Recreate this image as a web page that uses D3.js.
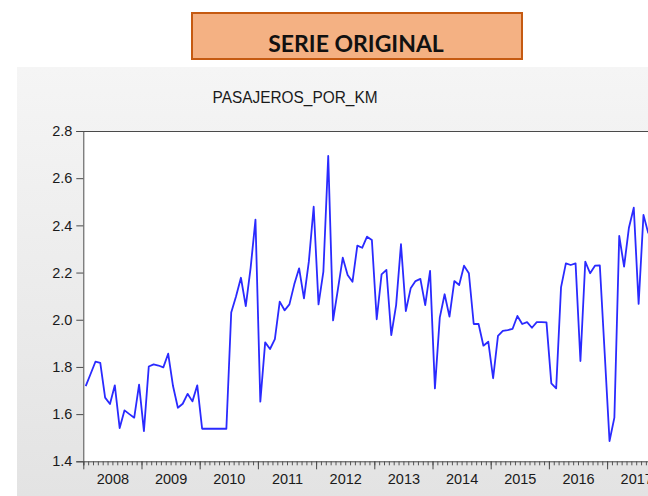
<!DOCTYPE html>
<html>
<head>
<meta charset="utf-8">
<script src="https://cdn.jsdelivr.net/npm/d3@7"></script>
<style>
  body { margin: 0; background: #fff; overflow: hidden; }
  svg { display: block; }
</style>
</head>
<body>
<svg id="chart" width="648" height="496"></svg>
<script>
// monthly series, starting 2008-01
const startYear = 2008
const pasajeros = [
  1.719, 1.770, 1.822, 1.817, 1.670, 1.643, 1.722, 1.541, 1.616, 1.600, 1.585, 1.725,
  1.528, 1.802, 1.811, 1.806, 1.798, 1.856, 1.719, 1.627, 1.644, 1.686, 1.654, 1.722,
  1.538, 1.538, 1.538, 1.538, 1.538, 1.538, 2.031, 2.100, 2.178, 2.058, 2.220, 2.424,
  1.653, 1.904, 1.876, 1.918, 2.077, 2.040, 2.065, 2.150, 2.218, 2.091, 2.246, 2.479,
  2.065, 2.204, 2.694, 1.997, 2.130, 2.263, 2.190, 2.161, 2.314, 2.305, 2.352, 2.338,
  2.002, 2.192, 2.211, 1.935, 2.062, 2.320, 2.037, 2.133, 2.164, 2.173, 2.062, 2.207,
  1.709, 2.009, 2.108, 2.013, 2.164, 2.147, 2.229, 2.197, 1.982, 1.982, 1.890, 1.907,
  1.752, 1.932, 1.953, 1.956, 1.961, 2.016, 1.982, 1.990, 1.966, 1.990, 1.990, 1.989,
  1.730, 1.709, 2.137, 2.239, 2.232, 2.239, 1.825, 2.246, 2.197, 2.229, 2.230, 1.859,
  1.486, 1.585, 2.355, 2.225, 2.390, 2.475, 2.067, 2.444, 2.366
]
const yTicks = [1.4, 1.6, 1.8, 2.0, 2.2, 2.4, 2.6, 2.8]
const yearLabels = [2008, 2009, 2010, 2011, 2012, 2013, 2014, 2015, 2016, 2017]

const bannerText = 'SERIE ORIGINAL'
const chartTitle = 'PASAJEROS_POR_KM'

let plot = {left: 83.3, top: 131, bottom: 461.3, yearWidth: 58.2}

let svg = d3.select('#chart')

// banner
svg.append('rect')
    .attr('x', 192).attr('y', 13)
    .attr('width', 330).attr('height', 46)
    .attr('fill', '#F4B183')
    .attr('stroke', '#C55A11')
    .attr('stroke-width', 2)

svg.append('text')
    .attr('x', 356).attr('y', 52)
    .attr('text-anchor', 'middle')
    .style('font-family', 'Lato, "Liberation Sans", sans-serif')
    .style('font-weight', 'bold')
    .style('font-size', '23px')
    .attr('fill', '#111')
    .text(bannerText)

// graph frame with soft gradient
let defs = svg.append('defs')
let grad = defs.append('linearGradient')
    .attr('id', 'frameFill')
    .attr('x1', 0).attr('y1', 0).attr('x2', 0).attr('y2', 1)
grad.append('stop').attr('offset', '0%').attr('stop-color', '#f5f5f5')
grad.append('stop').attr('offset', '100%').attr('stop-color', '#e3e3e3')

svg.append('rect')
    .attr('x', 17).attr('y', 67)
    .attr('width', 648 - 17).attr('height', 496 - 67)
    .attr('fill', 'url(#frameFill)')

svg.append('text')
    .attr('x', 295).attr('y', 103)
    .attr('text-anchor', 'middle')
    .style('font-family', 'Arial, "Liberation Sans", sans-serif')
    .style('font-size', '16px')
    .attr('textLength', 165)
    .attr('lengthAdjust', 'spacingAndGlyphs')
    .attr('fill', '#1a1a1a')
    .text(chartTitle)

// scales
let lastYear = startYear + yearLabels.length
let x = d3.scaleLinear()
    .domain([startYear, lastYear])
    .range([plot.left, plot.left + yearLabels.length * plot.yearWidth])
let y = d3.scaleLinear()
    .domain([1.4, 2.8])
    .range([plot.bottom, plot.top])

// plot background
svg.append('rect')
    .attr('x', plot.left).attr('y', plot.top)
    .attr('width', 700).attr('height', plot.bottom - plot.top)
    .attr('fill', '#fff')

let axisColor = '#4a4a4a'
let labelFont = 'Arial, "Liberation Sans", sans-serif'

// y axis
let yAxis = svg.append('g')
    .attr('transform', `translate(${plot.left},0)`)
    .call(d3.axisLeft(y).tickValues(yTicks).tickFormat(d3.format('.1f')).tickSize(7).tickPadding(4))
yAxis.select('.domain').attr('stroke', axisColor)
yAxis.selectAll('.tick line').attr('stroke', axisColor)
yAxis.selectAll('text')
    .style('font-family', labelFont)
    .style('font-size', '14.5px')
    .attr('fill', '#1a1a1a')

// x axis: monthly minor ticks, yearly major ticks, labels mid-year
let months = d3.range(startYear * 12, lastYear * 12 + 1).map(m => m / 12)
let years = d3.range(startYear, lastYear + 1)

let xMinor = svg.append('g')
    .attr('transform', `translate(0,${plot.bottom})`)
    .call(d3.axisBottom(x).tickValues(months).tickFormat('').tickSize(4))
xMinor.select('.domain').attr('stroke', axisColor)
xMinor.selectAll('.tick line').attr('stroke', '#555')

let xMajor = svg.append('g')
    .attr('transform', `translate(0,${plot.bottom})`)
    .call(d3.axisBottom(x).tickValues(years).tickFormat('').tickSize(8))
xMajor.select('.domain').remove()
xMajor.selectAll('.tick line').attr('stroke', axisColor)

let xLabels = svg.append('g')
    .attr('transform', `translate(0,${plot.bottom})`)
    .call(d3.axisBottom(x).tickValues(yearLabels.map(d => d + 0.5)).tickFormat(d => Math.floor(d)).tickSize(0).tickPadding(12))
xLabels.select('.domain').remove()
xLabels.selectAll('text')
    .style('font-family', labelFont)
    .style('font-size', '14.5px')
    .attr('fill', '#1a1a1a')

// top border of plot
svg.append('line')
    .attr('x1', plot.left).attr('x2', 648)
    .attr('y1', plot.top + 0.5).attr('y2', plot.top + 0.5)
    .attr('stroke', axisColor)

// series
let series = pasajeros.map((v, i) => ({t: startYear + (i + 0.5) / 12, v: v}))

let line = d3.line()
    .x(d => x(d.t))
    .y(d => y(d.v))

svg.append('path')
    .datum(series)
    .attr('d', line)
    .attr('fill', 'none')
    .attr('stroke', '#2a2aff')
    .attr('stroke-width', 1.8)
    .attr('stroke-linejoin', 'round')
</script>
</body>
</html>
